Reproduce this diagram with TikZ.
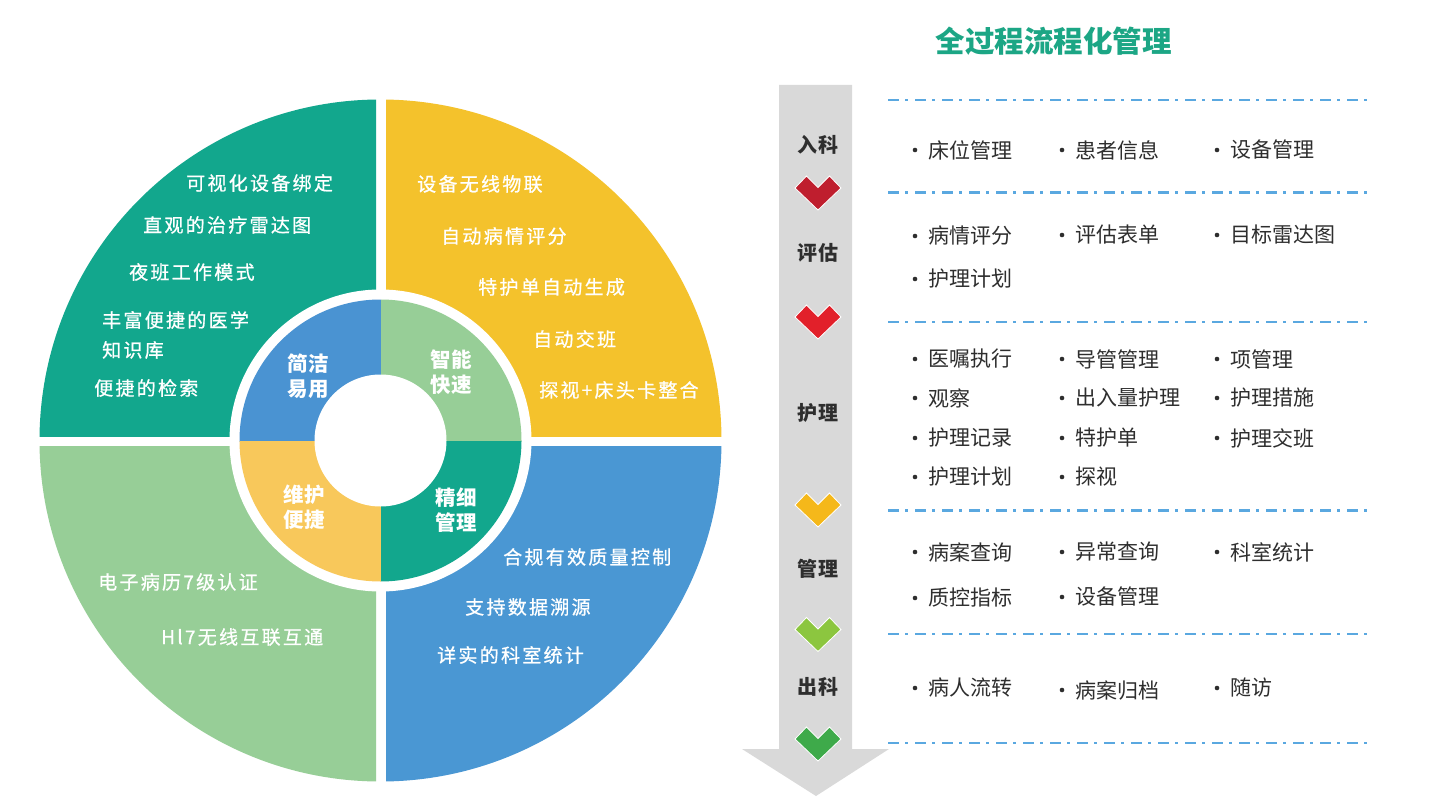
\documentclass[tikz,border=0pt]{standalone}
\usepackage{fontspec}
\setmainfont{Noto Sans CJK SC}
\newfontfamily\qfont[LetterSpace=12, FakeBold=0.8]{Noto Sans CJK SC}
\newfontfamily\ifont{Noto Sans CJK SC}
\newfontfamily\bfont[LetterSpace=3]{Noto Sans CJK SC}
\definecolor{cteal}{HTML}{12A78D}
\definecolor{cyel}{HTML}{F4C22C}
\definecolor{clgreen}{HTML}{97CE97}
\definecolor{cblue}{HTML}{4A97D3}
\definecolor{ciblue}{HTML}{4A93D2}
\definecolor{ciyel}{HTML}{F8C85B}
\definecolor{cgray}{HTML}{D9D9D9}
\definecolor{ctext}{HTML}{2E2E2E}
\definecolor{cdash}{HTML}{5AA8E0}
\definecolor{ctitle}{HTML}{1CA685}
\definecolor{chred}{HTML}{BF1E2E}
\definecolor{chred2}{HTML}{E2202A}
\definecolor{chyel}{HTML}{F5B81A}
\definecolor{chlg}{HTML}{8CC63F}
\definecolor{chg}{HTML}{3EAA4A}
\begin{document}
\begin{tikzpicture}[x=1pt,y=-1pt,
  qtxt/.style={inner sep=0pt, anchor=west, text=white, font=\qfont\fontsize{19}{22}\selectfont},
  intxt/.style={inner sep=0pt, text=white, align=center, font=\bfont\bfseries\fontsize{20.5}{25}\selectfont},
  itxt/.style={inner sep=0pt, anchor=west, text=ctext, font=\ifont\fontsize{21}{24}\selectfont},
  lbl/.style={inner sep=0pt, text=ctext, font=\bfont\bfseries\fontsize{20}{22}\selectfont},
  dashline/.style={draw=cdash, line width=2.4pt, dash pattern=on 11pt off 6pt on 3pt off 7pt},
  chevbox/.style={draw=white, line width=0.8pt}
]
\useasboundingbox (0,0) rectangle (1435,805);
\fill[white] (0,0) rectangle (1435,805);
\coordinate (C) at (380.5,440.5);
% outer quadrants
\begin{scope}\clip (20,80) rectangle (376,436); \fill[cteal] (C) circle[radius=341pt]; \end{scope}
\begin{scope}\clip (386,80) rectangle (740,436); \fill[cyel] (C) circle[radius=341pt]; \end{scope}
\begin{scope}\clip (20,446) rectangle (376,800); \fill[clgreen] (C) circle[radius=341pt]; \end{scope}
\begin{scope}\clip (386,446) rectangle (740,800); \fill[cblue] (C) circle[radius=341pt]; \end{scope}
\fill[white] (C) circle[radius=151pt];
% inner quadrants
\begin{scope}\clip (200,260) rectangle (381,441); \fill[ciblue] (C) circle[radius=141pt]; \end{scope}
\begin{scope}\clip (381,260) rectangle (560,441); \fill[clgreen] (C) circle[radius=141pt]; \end{scope}
\begin{scope}\clip (200,441) rectangle (381,620); \fill[ciyel] (C) circle[radius=141pt]; \end{scope}
\begin{scope}\clip (381,441) rectangle (560,620); \fill[cteal] (C) circle[radius=141pt]; \end{scope}
\fill[white] (C) circle[radius=66pt];
% inner labels
\node[intxt] (n1) at (308,376) {简洁\\易用};
\node[intxt] (n2) at (451,372) {智能\\快速};
\node[intxt] (n3) at (304,507) {维护\\便捷};
\node[intxt] (n4) at (456,510) {精细\\管理};
% quadrant texts
\node[qtxt] (a1) at (186,183) {可视化设备绑定};
\node[qtxt] (a2) at (143,225) {直观的治疗雷达图};
\node[qtxt] (a3) at (129,272) {夜班工作模式};
\node[qtxt] (a4) at (102,320) {丰富便捷的医学};
\node[qtxt] (a5) at (102,350) {知识库};
\node[qtxt] (a6) at (94,388) {便捷的检索};
\node[qtxt] (b1) at (417,184) {设备无线物联};
\node[qtxt] (b2) at (441,236) {自动病情评分};
\node[qtxt] (b3) at (478,287) {特护单自动生成};
\node[qtxt] (b4) at (533,339) {自动交班};
\node[qtxt] (b5) at (539,390) {探视+床头卡整合};
\node[qtxt] (c1) at (98,582) {电子病历7级认证};
\node[qtxt] (c2) at (161,637) {Hl7无线互联互通};
\node[qtxt] (d1) at (503,557) {合规有效质量控制};
\node[qtxt] (d2) at (465,607) {支持数据溯源};
\node[qtxt] (d3) at (437,655) {详实的科室统计};
% title
\node[inner sep=0pt, text=ctitle, font=\ifont\bfseries\fontsize{29.5}{32}\selectfont] (title) at (1053.5,41) {全过程流程化管理};
% gray arrow
\fill[cgray] (779,85) -- (852,85) -- (852,749) -- (889,749) -- (816,796) -- (742,749) -- (779,749) -- cycle;
% stage labels
\node[lbl] (s1) at (818,145) {入科};
\node[lbl] (s2) at (818,253) {评估};
\node[lbl] (s3) at (818,413) {护理};
\node[lbl] (s4) at (818,569) {管理};
\node[lbl] (s5) at (818,687) {出科};
% chevrons
\foreach \cy/\cc in {193/chred, 322/chred2, 510/chyel, 634.5/chlg, 744/chg}{
  \fill[\cc, chevbox] (818-23,\cy-5) -- (818-11.5,\cy-17) -- (818,\cy-5.5) -- (818+11.5,\cy-17) -- (818+23,\cy-5) -- (818,\cy+17) -- cycle;
}
% dashed lines
\foreach \ly in {100,192.5,322,510.5,634,743}{
  \draw[dashline] (888,\ly) -- (1368,\ly);
}
% items
\foreach \bx/\by/\t [count=\i] in {
  915/150/床位管理, 1062/150/患者信息, 1217/150/设备管理,
  915/236/病情评分, 1062/235/评估表单, 1217/235/目标雷达图,
  915/279/护理计划,
  915/359/医嘱执行, 1062/359/导管管理, 1217/359/项管理,
  915/398/观察, 1062/398/出入量护理, 1217/398/护理措施,
  915/438/护理记录, 1062/438/特护单, 1217/438/护理交班,
  915/477/护理计划, 1062/477/探视,
  915/552/病案查询, 1062/552/异常查询, 1217/552/科室统计,
  915/598/质控指标, 1062/597/设备管理,
  915/688/病人流转, 1062/690/病案归档, 1217/688/随访}{
  \fill[ctext] (\bx,\by) circle[radius=2.3pt];
  \node[itxt] (it\i) at (\bx+13,\by) {\t};
}
\end{tikzpicture}
\end{document}
